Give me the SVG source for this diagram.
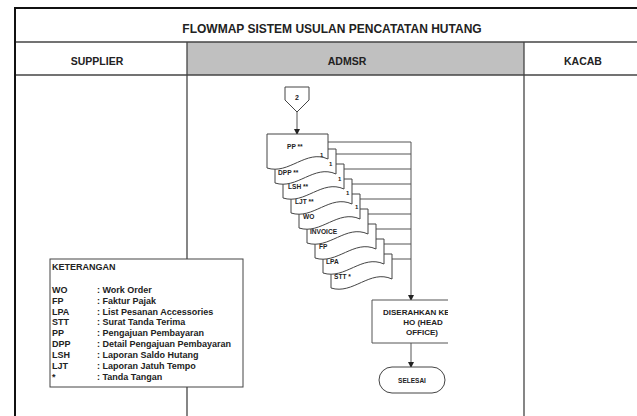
<svg xmlns="http://www.w3.org/2000/svg" xmlns:xlink="http://www.w3.org/1999/xlink" width="637" height="416" viewBox="0 0 637 416">
<style>
text{font-family:"Liberation Sans",Arial,sans-serif;font-weight:bold;fill:#222}
.frame{fill:none;stroke:#444;stroke-width:1.3}
.edge{fill:none;stroke:#111;stroke-width:2}
.shape{fill:#fff;stroke:#444;stroke-width:1}
.conn{fill:none;stroke:#555;stroke-width:1}
.doc{font-size:6.6px}
.one{font-size:6px}
.hdr{font-size:10.5px}
.leg{font-size:9px}
</style>
<defs>
<path id="docShape" d="M0 0 H61 V25 C39 15 22 41 0 34 Z"/>
<marker id="arr" markerWidth="6" markerHeight="6" refX="5" refY="3" orient="auto" markerUnits="userSpaceOnUse">
<path d="M0 0 L6 3 L0 6 Z" fill="#222"/>
</marker>
<clipPath id="boxClip"><rect x="360" y="290" width="88" height="60"/></clipPath>
</defs>
<rect x="0" y="0" width="637" height="416" fill="#fff"/>
<g id="frame">
<rect x="187" y="42" width="337" height="33" fill="#c0c0c0"/>
<line class="frame" x1="15" y1="42" x2="637" y2="42"/>
<line class="frame" x1="15" y1="75" x2="637" y2="75"/>
<line class="frame" x1="187" y1="42" x2="187" y2="416"/>
<line class="frame" x1="524" y1="42" x2="524" y2="416"/>
<line class="edge" x1="15" y1="8" x2="637" y2="8"/>
<line class="edge" x1="15" y1="7" x2="15" y2="416"/>
<text x="332" y="33" font-size="12" text-anchor="middle">FLOWMAP SISTEM USULAN PENCATATAN HUTANG</text>
<text class="hdr" x="97" y="65" text-anchor="middle">SUPPLIER</text>
<text class="hdr" x="347" y="65" text-anchor="middle">ADMSR</text>
<text class="hdr" x="583" y="65" text-anchor="middle">KACAB</text>
</g>
<g id="connectors">
<line class="conn" x1="297" y1="112" x2="297" y2="134" marker-end="url(#arr)"/>
<polyline class="conn" points="328,142 411,142"/>
<polyline class="conn" points="336,154 411,154"/>
<polyline class="conn" points="344,169 411,169"/>
<polyline class="conn" points="352,184 411,184"/>
<polyline class="conn" points="360,199 411,199"/>
<polyline class="conn" points="368,214 411,214"/>
<polyline class="conn" points="376,229 411,229"/>
<polyline class="conn" points="384,244 411,244"/>
<polyline class="conn" points="392,259 411,259"/>
<line class="conn" x1="411" y1="142" x2="411" y2="300" marker-end="url(#arr)"/>
<line class="conn" x1="411" y1="343" x2="411" y2="367" marker-end="url(#arr)"/>
</g>
<g id="node-connector-2">
<polygon class="shape" points="285,87 309,87 309,100 297,112 285,100"/>
<text x="297" y="100" font-size="7" text-anchor="middle">2</text>
</g>
<g id="node-docs">
<g id="doc-stt"><use href="#docShape" xlink:href="#docShape" class="shape" x="331" y="254"/><text class="doc" x="334" y="279">STT *</text></g>
<g id="doc-lpa"><use href="#docShape" xlink:href="#docShape" class="shape" x="323" y="239"/><text class="doc" x="326" y="264">LPA</text></g>
<g id="doc-fp"><use href="#docShape" xlink:href="#docShape" class="shape" x="315" y="224"/><text class="doc" x="319" y="249">FP</text></g>
<g id="doc-invoice"><use href="#docShape" xlink:href="#docShape" class="shape" x="307" y="209"/><text class="doc" x="310" y="234">INVOICE</text></g>
<g id="doc-wo"><use href="#docShape" xlink:href="#docShape" class="shape" x="299" y="194"/><text class="doc" x="303" y="219">WO</text><text class="one" x="355" y="209">1</text></g>
<g id="doc-ljt"><use href="#docShape" xlink:href="#docShape" class="shape" x="291" y="179"/><text class="doc" x="295" y="204">LJT **</text><text class="one" x="346" y="195">1</text></g>
<g id="doc-lsh"><use href="#docShape" xlink:href="#docShape" class="shape" x="283" y="164"/><text class="doc" x="288" y="189">LSH **</text><text class="one" x="338" y="181">1</text></g>
<g id="doc-dpp"><use href="#docShape" xlink:href="#docShape" class="shape" x="275" y="149"/><text class="doc" x="278" y="175">DPP **</text><text class="one" x="329" y="166">1</text></g>
<g id="doc-pp"><use href="#docShape" xlink:href="#docShape" class="shape" x="267" y="134"/><text class="doc" x="287" y="149">PP **</text><text class="one" x="320" y="157">1</text></g>
</g>
<g id="node-diserahkan">
<rect x="372" y="300" width="76" height="43" fill="#fff" stroke="none"/>
<g clip-path="url(#boxClip)">
<polyline class="conn" points="452,300 372,300 372,343 452,343"/>
<text font-size="8" x="383" y="315">DISERAHKAN KE</text>
<text font-size="8" x="423" y="325" text-anchor="middle">HO (HEAD</text>
<text font-size="8" x="422" y="335" text-anchor="middle">OFFICE)</text>
</g>
</g>
<g id="node-selesai">
<rect class="shape" x="379" y="367" width="66" height="26" rx="13" ry="13"/>
<text font-size="6.5" x="412" y="382.5" text-anchor="middle">SELESAI</text>
</g>
<g id="node-keterangan">
<rect class="shape" x="50" y="259" width="193" height="128" stroke-width="1.2"/>
<text class="leg" x="52" y="270">KETERANGAN</text>
<text class="leg" x="52" y="293">WO</text><text class="leg" x="97" y="293">: Work Order</text>
<text class="leg" x="52" y="304">FP</text><text class="leg" x="97" y="304">: Faktur Pajak</text>
<text class="leg" x="52" y="314.5">LPA</text><text class="leg" x="97" y="314.5">: List Pesanan Accessories</text>
<text class="leg" x="52" y="325">STT</text><text class="leg" x="97" y="325">: Surat Tanda Terima</text>
<text class="leg" x="52" y="336">PP</text><text class="leg" x="97" y="336">: Pengajuan Pembayaran</text>
<text class="leg" x="52" y="347">DPP</text><text class="leg" x="97" y="347">: Detail Pengajuan Pembayaran</text>
<text class="leg" x="52" y="358">LSH</text><text class="leg" x="97" y="358">: Laporan Saldo Hutang</text>
<text class="leg" x="52" y="369">LJT</text><text class="leg" x="97" y="369">: Laporan Jatuh Tempo</text>
<text class="leg" x="52" y="380">*</text><text class="leg" x="97" y="380">: Tanda Tangan</text>
</g>
</svg>
